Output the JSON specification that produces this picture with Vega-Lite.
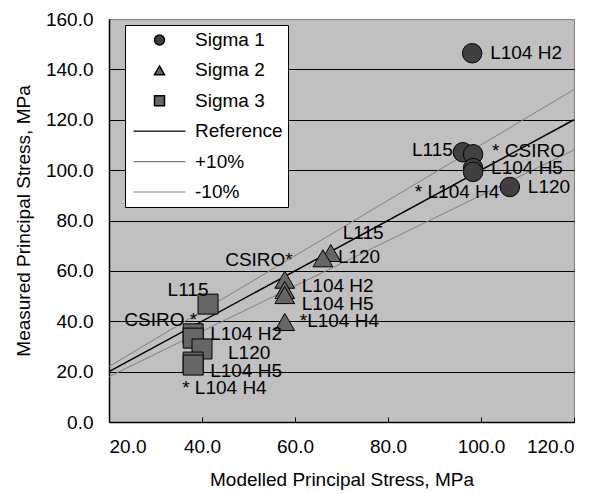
{
  "$schema": "https://vega.github.io/schema/vega-lite/v6.json",
  "width": 465,
  "height": 403,
  "autosize": "none",
  "padding": {"left": 109, "top": 19, "right": 26, "bottom": 72},
  "background": "white",
  "config": {
    "view": {"fill": "#C0C0C0", "stroke": "#808080", "strokeWidth": 1},
    "font": "Liberation Sans",
    "axis": {
      "labelFont": "Liberation Sans", "titleFont": "Liberation Sans",
      "labelFontSize": 19, "titleFontSize": 19,
      "labelColor": "black", "titleColor": "black", "titleFontWeight": "normal",
      "domainColor": "black", "tickColor": "black"
    },
    "text": {"font": "Liberation Sans", "fontSize": 19, "color": "black", "baseline": "middle"}
  },
  "datasets": {
    "points": [
      {"id": "S1 L104 H2", "series": "Sigma 1", "x": 98.1, "y": 146.4, "label": "L104 H2"},
      {"id": "S1 L115", "series": "Sigma 1", "x": 96.1, "y": 107.1, "label": "L115"},
      {"id": "S1 CSIRO", "series": "Sigma 1", "x": 98.3, "y": 106.3, "label": "* CSIRO"},
      {"id": "S1 L104 H5", "series": "Sigma 1", "x": 98.3, "y": 100.8, "label": "L104 H5"},
      {"id": "S1 L104 H4", "series": "Sigma 1", "x": 98.3, "y": 99.3, "label": "* L104 H4"},
      {"id": "S1 L120", "series": "Sigma 1", "x": 106.2, "y": 93.3, "label": "L120"},
      {"id": "S2 L115", "series": "Sigma 2", "x": 67.7, "y": 67.1, "label": "L115"},
      {"id": "S2 L120", "series": "Sigma 2", "x": 66.0, "y": 65.0, "label": "L120"},
      {"id": "S2 CSIRO", "series": "Sigma 2", "x": 57.8, "y": 56.5, "label": "CSIRO*"},
      {"id": "S2 L104 H2", "series": "Sigma 2", "x": 57.8, "y": 52.4, "label": "L104 H2"},
      {"id": "S2 L104 H5", "series": "Sigma 2", "x": 57.8, "y": 50.4, "label": "L104 H5"},
      {"id": "S2 L104 H4", "series": "Sigma 2", "x": 57.8, "y": 39.7, "label": "*L104 H4"},
      {"id": "S3 L115", "series": "Sigma 3", "x": 41.3, "y": 46.8, "label": "L115"},
      {"id": "S3 CSIRO", "series": "Sigma 3", "x": 38.1, "y": 35.0, "label": "CSIRO *"},
      {"id": "S3 L104 H2", "series": "Sigma 3", "x": 38.1, "y": 33.3, "label": "L104 H2"},
      {"id": "S3 L120", "series": "Sigma 3", "x": 40.0, "y": 29.0, "label": "L120"},
      {"id": "S3 L104 H5", "series": "Sigma 3", "x": 38.1, "y": 23.8, "label": "L104 H5"},
      {"id": "S3 L104 H4", "series": "Sigma 3", "x": 38.1, "y": 22.6, "label": "* L104 H4"}
    ],
    "lines": [
      {"series": "Reference", "x": 20, "y": 20},
      {"series": "Reference", "x": 120, "y": 120},
      {"series": "+10%", "x": 20, "y": 22},
      {"series": "+10%", "x": 120, "y": 132},
      {"series": "-10%", "x": 20, "y": 18},
      {"series": "-10%", "x": 120, "y": 108}
    ]
  },
  "encoding": {
    "x": {
      "field": "x", "type": "quantitative",
      "scale": {"domain": [20, 120], "nice": false, "zero": false},
      "axis": {
        "values": [20, 40, 60, 80, 100, 120], "format": ".1f", "grid": false,
        "tickSize": -5, "tickWidth": 1, "labelPadding": 20, "domainWidth": 1.5,
        "title": "Modelled Principal Stress, MPa", "titlePadding": 14
      }
    },
    "y": {
      "field": "y", "type": "quantitative",
      "scale": {"domain": [0, 160], "nice": false},
      "axis": {
        "values": [0, 20, 40, 60, 80, 100, 120, 140, 160], "format": ".1f",
        "grid": true, "gridWidth": 1, "gridOpacity": 1,
        "gridColor": {"condition": {"test": "datum.value === 160", "value": "#808080"}, "value": "black"},
        "ticks": false, "labelPadding": 16, "domainWidth": 1.5,
        "title": "Measured Principal Stress, MPa", "titlePadding": 12
      }
    }
  },
  "layer": [
    {
      "data": {"name": "lines"},
      "transform": [{"filter": "datum.series !== 'Reference'"}],
      "mark": {"type": "line", "strokeWidth": 1},
      "encoding": {
        "stroke": {
          "field": "series", "type": "nominal",
          "scale": {"domain": ["Reference", "+10%", "-10%"], "range": ["black", "#808080", "#808080"]},
          "legend": {
            "orient": "none", "legendX": 23.5, "legendY": 102.2, "title": null, "zindex": 2,
            "padding": 0, "rowPadding": 10.4, "clipHeight": 20, "symbolOffset": 0,
            "symbolType": "stroke", "symbolSize": 2700, "symbolStrokeWidth": 1.2,
            "labelFont": "Liberation Sans", "labelFontSize": 19, "labelExpr": "''"
          }
        }
      }
    },
    {
      "data": {"name": "lines"},
      "transform": [{"filter": "datum.series === 'Reference'"}],
      "mark": {"type": "line", "strokeWidth": 1.5},
      "encoding": {
        "stroke": {
          "field": "series", "type": "nominal",
          "scale": {"domain": ["Reference", "+10%", "-10%"], "range": ["black", "#808080", "#808080"]},
          "legend": {
            "orient": "none", "legendX": 23.5, "legendY": 102.2, "title": null, "zindex": 2,
            "padding": 0, "rowPadding": 10.4, "clipHeight": 20, "symbolOffset": 0,
            "symbolType": "stroke", "symbolSize": 2700, "symbolStrokeWidth": 1.2,
            "labelFont": "Liberation Sans", "labelFontSize": 19, "labelExpr": "''"
          }
        }
      }
    },
    {
      "data": {"name": "points"},
      "mark": {"type": "point", "filled": true, "stroke": "black", "strokeWidth": 1, "opacity": 1},
      "encoding": {
        "shape": {
          "field": "series", "type": "nominal",
          "scale": {"domain": ["Sigma 1", "Sigma 2", "Sigma 3", "Reference", "+10%", "-10%"], "range": ["circle", "triangle-up", "square", "M0,0Z", "M0,0Z", "M0,0Z"]},
          "legend": {
            "orient": "none", "legendX": 16, "legendY": 6, "title": null, "zindex": 1,
            "fillColor": "white", "strokeColor": "black", "padding": 5,
            "labelFont": "Liberation Sans", "labelFontSize": 19, "labelColor": "black",
            "rowPadding": 10.4, "clipHeight": 20, "symbolOffset": 20, "labelOffset": 26, "symbolSize": 100
          }
        },
        "color": {
          "field": "series", "type": "nominal",
          "scale": {"domain": ["Sigma 1", "Sigma 2", "Sigma 3", "Reference", "+10%", "-10%"], "range": ["#404040", "#666666", "#666666", "black", "#808080", "#808080"]},
          "legend": {
            "orient": "none", "legendX": 16, "legendY": 6, "title": null, "zindex": 1,
            "fillColor": "white", "strokeColor": "black", "padding": 5,
            "labelFont": "Liberation Sans", "labelFontSize": 19, "labelColor": "black",
            "rowPadding": 10.4, "clipHeight": 20, "symbolOffset": 20, "labelOffset": 26, "symbolSize": 100
          }
        },
        "size": {
          "field": "series", "type": "ordinal",
          "scale": {"domain": ["Sigma 1", "Sigma 2", "Sigma 3"], "range": [380, 400, 256]},
          "legend": null
        }
      }
    },
    {
      "data": {"name": "points"},
      "encoding": {"text": {"field": "label", "type": "nominal"}},
      "layer": [
        {"transform": [{"filter": {"field": "id", "oneOf": ["S1 L104 H2", "S1 L104 H5", "S1 L120"]}}], "mark": {"type": "text", "align": "left", "dx": 18, "dy": 0}},
        {"transform": [{"filter": {"field": "id", "oneOf": ["S1 CSIRO"]}}], "mark": {"type": "text", "align": "left", "dx": 19, "dy": -3}},
        {"transform": [{"filter": {"field": "id", "oneOf": ["S1 L115"]}}], "mark": {"type": "text", "align": "right", "dx": -10, "dy": -2}},
        {"transform": [{"filter": {"field": "id", "oneOf": ["S1 L104 H4"]}}], "mark": {"type": "text", "align": "center", "dx": -16, "dy": 20}},
        {"transform": [{"filter": {"field": "id", "oneOf": ["S2 L115"]}}], "mark": {"type": "text", "align": "left", "dx": 12, "dy": -20}},
        {"transform": [{"filter": {"field": "id", "oneOf": ["S2 L120", "S2 L104 H4"]}}], "mark": {"type": "text", "align": "left", "dx": 15, "dy": -1}},
        {"transform": [{"filter": {"field": "id", "oneOf": ["S2 CSIRO"]}}], "mark": {"type": "text", "align": "right", "dx": 8, "dy": -20}},
        {"transform": [{"filter": {"field": "id", "oneOf": ["S2 L104 H2", "S3 L104 H2"]}}], "mark": {"type": "text", "align": "left", "dx": 17, "dy": -4}},
        {"transform": [{"filter": {"field": "id", "oneOf": ["S2 L104 H5", "S3 L104 H5"]}}], "mark": {"type": "text", "align": "left", "dx": 17, "dy": 9}},
        {"transform": [{"filter": {"field": "id", "oneOf": ["S3 L115"]}}], "mark": {"type": "text", "align": "center", "dx": -20, "dy": -14}},
        {"transform": [{"filter": {"field": "id", "oneOf": ["S3 CSIRO"]}}], "mark": {"type": "text", "align": "right", "dx": 4, "dy": -14}},
        {"transform": [{"filter": {"field": "id", "oneOf": ["S3 L120"]}}], "mark": {"type": "text", "align": "left", "dx": 26, "dy": 4}},
        {"transform": [{"filter": {"field": "id", "oneOf": ["S3 L104 H4"]}}], "mark": {"type": "text", "align": "left", "dx": -11, "dy": 23}}
      ]
    }
  ]
}
